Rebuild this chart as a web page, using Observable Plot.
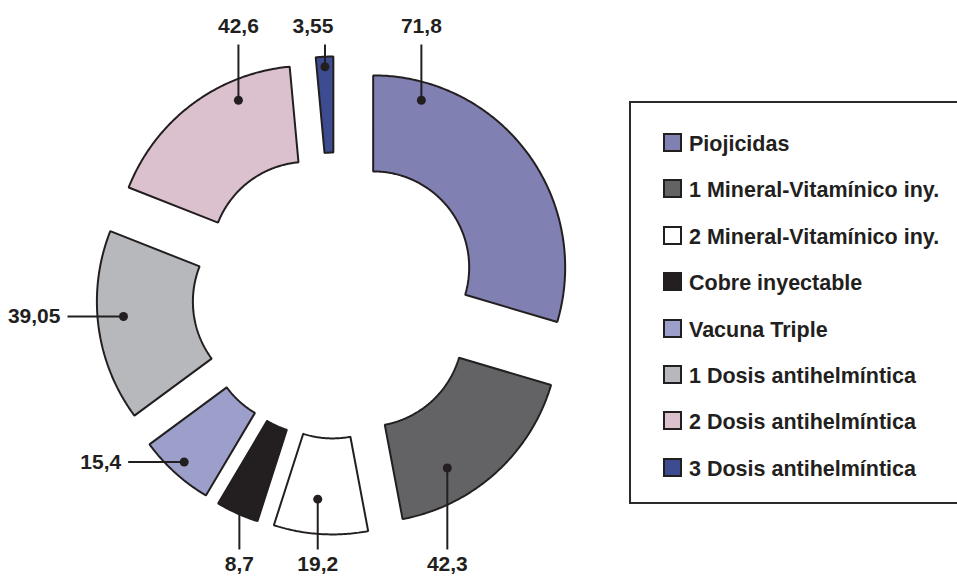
<!DOCTYPE html>
<html>
<head>
<meta charset="utf-8">
<script src="https://cdn.jsdelivr.net/npm/d3@7"></script>
<script src="https://cdn.jsdelivr.net/npm/@observablehq/plot@0.6"></script>
<style>
  html, body { margin: 0; padding: 0; background: #fff; overflow: hidden; width: 957px; height: 576px; }
  #wrap { position: relative; width: 957px; height: 576px; overflow: hidden; font-family: "Liberation Sans", Arial, sans-serif; }
  #chart { position: absolute; left: 0; top: 0; }
  #legend { position: absolute; left: 629px; top: 101px; width: 340px; height: 403px; border: 2px solid #2a2a2a; box-sizing: border-box; background: #fff; }
  .item { position: absolute; left: 32px; height: 19px; display: flex; align-items: flex-start; }
  .sw { width: 19px; height: 19px; box-sizing: border-box; border: 2px solid #231f20; flex: none; }
  .lbl { margin-left: 7px; font-weight: bold; font-size: 21.5px; line-height: 19px; position: relative; top: 2px; color: #231f20; white-space: nowrap; }
</style>
</head>
<body>
<div id="wrap">
  <div id="chart"></div>
  <div id="legend"></div>
</div>
<script>
// ---- data ----
const categories = [
  "Piojicidas",
  "1 Mineral-Vitamínico iny.",
  "2 Mineral-Vitamínico iny.",
  "Cobre inyectable",
  "Vacuna Triple",
  "1 Dosis antihelmíntica",
  "2 Dosis antihelmíntica",
  "3 Dosis antihelmíntica"
];
const values = [71.8, 42.3, 19.2, 8.7, 15.4, 39.05, 42.6, 3.55];
const colors = ["#8080b2", "#636365", "#ffffff", "#231f20", "#9c9fc9", "#b7b8bc", "#dbc1ce", "#3d4b91"];

// ---- layout (not data) ----
const W = 957, H = 576;
const CX = 335, CY = 295;     // donut centre, px
const RPX = 192;              // outer radius, px
const HOLE = 0.5;             // inner radius fraction
const EXPLODE = 47 / RPX;     // explosion offset (radius units)
const INK = "#231f20";
// leader placement per slice: position along the slice angle (0..1), radius fraction, direction
const leaderT   = [0.151, 0.688, 0.565, 0.55, 0.507, 0.54, 0.71, 0.5];
const leaderR   = [0.906, 0.83, 0.82, 0.95, 0.927, 0.865, 0.896, 0.948];
const leaderDir = ["up", "down", "down", "down", "left", "left", "up", "up"];
const labelShift = [0, 0, 0, 0, 0, 0, 0, -12]; // horizontal nudge of a label, px

const pxY = py => (CY - py) / RPX;  // convert a pixel row into radius units
const LEN_LEFT = 56 / RPX;

const data = categories.map((name, i) => ({name, value: values[i], color: colors[i]}));
const arcs = d3.pie().sort(null).value(d => d.value).startAngle(0).endAngle(2 * Math.PI)(data);

// slice outlines
const pts = [];
const leaders = [];
arcs.forEach((a, i) => {
  const mid = (a.startAngle + a.endAngle) / 2;
  const ox = EXPLODE * Math.sin(mid), oy = EXPLODE * Math.cos(mid);
  const n = Math.max(2, Math.ceil((a.endAngle - a.startAngle) / 0.01));
  for (let k = 0; k <= n; k++) {
    const t = a.startAngle + (a.endAngle - a.startAngle) * k / n;
    pts.push({name: a.data.name, color: a.data.color, x: ox + Math.sin(t), y: oy + Math.cos(t)});
  }
  for (let k = n; k >= 0; k--) {
    const t = a.startAngle + (a.endAngle - a.startAngle) * k / n;
    pts.push({name: a.data.name, color: a.data.color, x: ox + HOLE * Math.sin(t), y: oy + HOLE * Math.cos(t)});
  }
  const la = a.startAngle + (a.endAngle - a.startAngle) * leaderT[i];
  const dx = ox + leaderR[i] * Math.sin(la), dy = oy + leaderR[i] * Math.cos(la);
  const dir = leaderDir[i];
  let ex = dx, ey = dy;
  if (dir === "up") ey = pxY(44);
  else if (dir === "down") ey = pxY(549);
  else ex = dx - LEN_LEFT;
  leaders.push({
    dir, x: dx, y: dy, ex, ey,
    text: String(a.data.value).replace(".", ","),
    tx: (dir === "left" ? ex - 7 / RPX : dx) + labelShift[i] / RPX,
    ty: dir === "up" ? pxY(32) : dir === "down" ? pxY(556) : dy
  });
});

const chart = Plot.plot({
  width: W, height: H,
  margin: 0,
  x: {domain: [-CX / RPX, (W - CX) / RPX], axis: null},
  y: {domain: [-(H - CY) / RPX, CY / RPX], axis: null},
  color: {type: "identity"},
  style: {fontFamily: "'Liberation Sans', Arial, sans-serif", background: "#fff"},
  marks: [
    Plot.line(pts, {x: "x", y: "y", z: "name", fill: "color", stroke: INK, strokeWidth: 2, curve: "linear-closed", strokeLinejoin: "miter"}),
    Plot.link(leaders, {x1: "x", y1: "y", x2: "ex", y2: "ey", stroke: INK, strokeWidth: 2}),
    Plot.dot(leaders, {x: "x", y: "y", r: 4.5, fill: INK, stroke: "none"}),
    Plot.text(leaders.filter(d => d.dir === "up"), {x: "tx", y: "ty", text: "text", lineAnchor: "bottom", textAnchor: "middle", fontSize: 21, fontWeight: "bold", fill: INK}),
    Plot.text(leaders.filter(d => d.dir === "down"), {x: "tx", y: "ty", text: "text", lineAnchor: "top", textAnchor: "middle", fontSize: 21, fontWeight: "bold", fill: INK}),
    Plot.text(leaders.filter(d => d.dir === "left"), {x: "tx", y: "ty", text: "text", lineAnchor: "middle", textAnchor: "end", fontSize: 21, fontWeight: "bold", fill: INK})
  ]
});
document.getElementById("chart").appendChild(chart);

// legend
const legend = document.getElementById("legend");
categories.forEach((name, i) => {
  const row = document.createElement("div");
  row.className = "item";
  row.style.top = (30 + i * 46.4) + "px";
  const sw = document.createElement("div");
  sw.className = "sw";
  sw.style.background = colors[i];
  const lb = document.createElement("span");
  lb.className = "lbl";
  lb.textContent = name;
  row.appendChild(sw);
  row.appendChild(lb);
  legend.appendChild(row);
});
</script>
</body>
</html>
